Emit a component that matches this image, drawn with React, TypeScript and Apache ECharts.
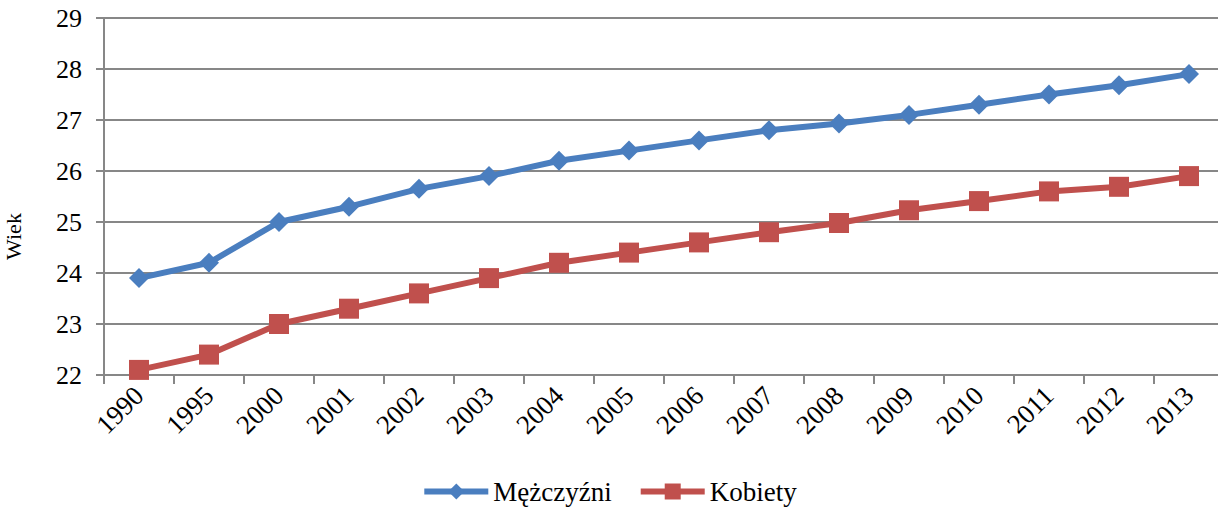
import React, { useEffect, useRef } from "react";
import * as echarts from "echarts";

const categories = ["1990","1995","2000","2001","2002","2003","2004","2005","2006","2007","2008","2009","2010","2011","2012","2013"];
const men = [23.9, 24.2, 25.0, 25.3, 25.65, 25.9, 26.2, 26.4, 26.6, 26.8, 26.93, 27.1, 27.3, 27.5, 27.68, 27.9];
const women = [22.1, 22.4, 23.0, 23.3, 23.6, 23.9, 24.2, 24.4, 24.6, 24.8, 24.98, 25.23, 25.41, 25.6, 25.69, 25.9];
const yTitle = "Wiek";

const FONT = "'Liberation Serif', 'Times New Roman', serif";

export default function App() {
  const ref = useRef<HTMLDivElement>(null);
  useEffect(() => {
    if (!ref.current) return;
    const chart = echarts.init(ref.current, null, { renderer: "svg" });
    chart.setOption({
      animation: false,
      backgroundColor: "#ffffff",
      textStyle: { fontFamily: FONT, color: "#000" },
      grid: { left: 104, top: 18, width: 1120, height: 357, containLabel: false, outerBoundsMode: "none" },
      legend: {
        bottom: 0,
        left: "center",
        itemWidth: 64,
        itemHeight: 20,
        itemGap: 26,
        lineStyle: { width: 6 },
        textStyle: { fontFamily: FONT, fontSize: 27, color: "#000" },
        data: ["Mężczyźni", "Kobiety"],
      },
      xAxis: {
        type: "category",
        data: categories,
        boundaryGap: true,
        axisLine: { lineStyle: { color: "#878787", width: 2 } },
        axisTick: { show: true, length: 9, lineStyle: { color: "#878787", width: 2 } },
        axisLabel: { rotate: 45, margin: 16, fontFamily: FONT, fontSize: 27, color: "#000", interval: 0 },
      },
      yAxis: {
        type: "value",
        min: 22,
        max: 29,
        interval: 1,
        name: yTitle,
        nameLocation: "middle",
        nameGap: 80,
        nameRotate: 90,
        nameTextStyle: { fontFamily: FONT, fontSize: 22, color: "#000", padding: [0, 0, 0, -80] },
        axisLine: { show: true, lineStyle: { color: "#878787", width: 2 } },
        axisTick: { show: true, length: 8, lineStyle: { color: "#878787", width: 2 } },
        splitLine: { lineStyle: { color: "#878787", width: 2 } },
        axisLabel: { margin: 22, fontFamily: FONT, fontSize: 26, color: "#000" },
      },
      series: [
        {
          name: "Mężczyźni",
          type: "line",
          data: men,
          symbol: "diamond",
          symbolSize: 20,
          lineStyle: { color: "#4a7ebf", width: 6 },
          itemStyle: { color: "#4a7ebf" },
        },
        {
          name: "Kobiety",
          type: "line",
          data: women,
          symbol: "rect",
          symbolSize: 20,
          lineStyle: { color: "#c0504d", width: 6 },
          itemStyle: { color: "#c0504d" },
        },
      ],
    });
    return () => chart.dispose();
  }, []);
  return <div ref={ref} style={{ position: "absolute", left: 0, top: 0, width: 1218, height: 510 }} />;
}
